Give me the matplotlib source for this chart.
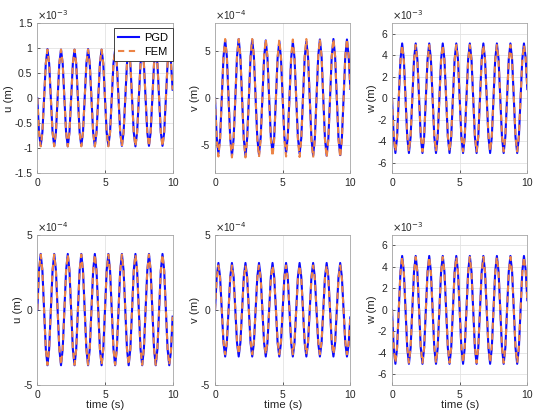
import numpy as np
import matplotlib
matplotlib.use('Agg')
import matplotlib.pyplot as plt

plt.rcParams['font.family'] = ['Liberation Sans', 'DejaVu Sans']

# ---------------------------------------------
# data (read off the picture), sampled every 0.125 s
# values are in the units of each panel's exponent label
# ---------------------------------------------
time_s = np.linspace(0, 10, 81)

u_top_pgd = [
    0.00, -0.68, -0.95, -0.68, 0.00, 0.69, 0.98, 0.69,
    0.00, -0.68, -0.95, -0.68, 0.00, 0.69, 0.97, 0.69,
    0.00, -0.68, -0.96, -0.68, 0.00, 0.69, 0.97, 0.69,
    0.00, -0.68, -0.95, -0.68, 0.00, 0.69, 0.98, 0.69,
    0.00, -0.68, -0.96, -0.68, 0.00, 0.69, 0.97, 0.69,
    0.00, -0.68, -0.95, -0.68, 0.00, 0.69, 0.97, 0.69,
    0.00, -0.68, -0.95, -0.68, 0.00, 0.69, 0.98, 0.69,
    0.00, -0.68, -0.96, -0.68, 0.00, 0.69, 0.97, 0.69,
    0.00, -0.68, -0.95, -0.68, 0.00, 0.69, 0.97, 0.69,
    0.00, -0.68, -0.95, -0.68, 0.00, 0.69, 0.98, 0.72,
    0.17]
u_top_fem = [
    0.00, -0.68, -0.96, -0.68, 0.00, 0.69, 0.97, 0.69,
    0.00, -0.68, -0.96, -0.68, 0.00, 0.69, 0.97, 0.69,
    0.00, -0.68, -0.96, -0.68, 0.00, 0.69, 0.97, 0.69,
    0.00, -0.68, -0.96, -0.68, 0.00, 0.69, 0.97, 0.69,
    0.00, -0.68, -0.96, -0.68, 0.00, 0.69, 0.97, 0.69,
    0.00, -0.68, -0.96, -0.68, 0.00, 0.69, 0.97, 0.69,
    0.00, -0.68, -0.96, -0.68, 0.00, 0.69, 0.97, 0.69,
    0.00, -0.68, -0.96, -0.68, 0.00, 0.69, 0.97, 0.69,
    0.00, -0.68, -0.96, -0.68, 0.00, 0.69, 0.97, 0.69,
    0.00, -0.68, -0.96, -0.68, 0.00, 0.69, 0.97, 0.72,
    0.17]

v_top_pgd = [
    0.00, -4.17, -5.90, -4.24, 0.00, 4.38, 6.20, 4.45,
    0.00, -4.31, -6.10, -4.31, 0.00, 4.45, 6.30, 4.45,
    0.00, -4.31, -6.10, -4.28, 0.00, 4.40, 6.25, 4.38,
    0.00, -4.24, -6.00, -4.17, 0.00, 4.31, 6.15, 4.31,
    0.00, -4.10, -5.80, -4.10, 0.00, 4.28, 6.05, 4.24,
    0.00, -4.10, -5.80, -4.14, 0.00, 4.24, 6.00, 4.28,
    0.00, -4.17, -5.90, -4.24, 0.00, 4.31, 6.05, 4.38,
    0.00, -4.31, -6.10, -4.31, 0.00, 4.45, 6.25, 4.45,
    0.00, -4.31, -6.10, -4.31, 0.00, 4.45, 6.30, 4.45,
    0.00, -4.28, -6.05, -4.24, 0.00, 4.40, 6.25, 4.50,
    1.00]
v_top_fem = [
    0.00, -4.38, -6.20, -4.40, 0.00, 4.45, 6.30, 4.45,
    0.00, -4.45, -6.30, -4.45, 0.00, 4.45, 6.30, 4.45,
    0.00, -4.45, -6.30, -4.45, 0.00, 4.45, 6.30, 4.45,
    0.00, -4.40, -6.25, -4.40, 0.00, 4.45, 6.30, 4.45,
    0.00, -4.38, -6.20, -4.38, 0.00, 4.40, 6.25, 4.40,
    0.00, -4.38, -6.20, -4.38, 0.00, 4.40, 6.25, 4.40,
    0.00, -4.40, -6.25, -4.40, 0.00, 4.45, 6.30, 4.45,
    0.00, -4.45, -6.30, -4.45, 0.00, 4.45, 6.30, 4.45,
    0.00, -4.45, -6.30, -4.45, 0.00, 4.45, 6.30, 4.45,
    0.00, -4.45, -6.30, -4.45, 0.00, 4.45, 6.30, 4.55,
    1.00]

w_top_pgd = [
    0.00, -3.61, -5.10, -3.61, 0.00, 3.61, 5.10, 3.61,
    0.00, -3.61, -5.10, -3.61, 0.00, 3.61, 5.10, 3.61,
    0.00, -3.61, -5.10, -3.61, 0.00, 3.61, 5.10, 3.61,
    0.00, -3.61, -5.10, -3.61, 0.00, 3.61, 5.10, 3.61,
    0.00, -3.61, -5.10, -3.61, 0.00, 3.61, 5.10, 3.61,
    0.00, -3.61, -5.10, -3.61, 0.00, 3.61, 5.10, 3.61,
    0.00, -3.61, -5.10, -3.61, 0.00, 3.61, 5.10, 3.61,
    0.00, -3.61, -5.10, -3.61, 0.00, 3.61, 5.10, 3.61,
    0.00, -3.61, -5.10, -3.61, 0.00, 3.61, 5.10, 3.61,
    0.00, -3.61, -5.10, -3.61, 0.00, 3.61, 5.10, 3.80,
    0.85]
w_top_fem = [
    0.00, -3.50, -4.95, -3.50, 0.00, 3.50, 4.95, 3.50,
    0.00, -3.50, -4.95, -3.50, 0.00, 3.50, 4.95, 3.50,
    0.00, -3.50, -4.95, -3.50, 0.00, 3.50, 4.95, 3.50,
    0.00, -3.50, -4.95, -3.50, 0.00, 3.50, 4.95, 3.50,
    0.00, -3.50, -4.95, -3.50, 0.00, 3.50, 4.95, 3.50,
    0.00, -3.50, -4.95, -3.50, 0.00, 3.50, 4.95, 3.50,
    0.00, -3.50, -4.95, -3.50, 0.00, 3.50, 4.95, 3.50,
    0.00, -3.50, -4.95, -3.50, 0.00, 3.50, 4.95, 3.50,
    0.00, -3.50, -4.95, -3.50, 0.00, 3.50, 4.95, 3.50,
    0.00, -3.50, -4.95, -3.50, 0.00, 3.50, 4.95, 3.70,
    0.85]

u_bot_pgd = [
    0.00, 2.62, 3.72, 2.62, 0.00, -2.60, -3.68, -2.60,
    0.00, 2.62, 3.72, 2.62, 0.00, -2.60, -3.68, -2.60,
    0.00, 2.62, 3.72, 2.62, 0.00, -2.60, -3.68, -2.60,
    0.00, 2.62, 3.72, 2.62, 0.00, -2.60, -3.68, -2.60,
    0.00, 2.62, 3.72, 2.62, 0.00, -2.60, -3.68, -2.60,
    0.00, 2.62, 3.72, 2.62, 0.00, -2.60, -3.68, -2.60,
    0.00, 2.62, 3.72, 2.62, 0.00, -2.60, -3.68, -2.60,
    0.00, 2.62, 3.72, 2.62, 0.00, -2.60, -3.68, -2.60,
    0.00, 2.62, 3.72, 2.62, 0.00, -2.60, -3.68, -2.60,
    0.00, 2.62, 3.72, 2.62, 0.00, -2.60, -3.68, -2.75,
    -0.45]
u_bot_fem = [
    0.00, 2.60, 3.68, 2.60, 0.00, -2.58, -3.65, -2.58,
    0.00, 2.60, 3.68, 2.60, 0.00, -2.58, -3.65, -2.58,
    0.00, 2.60, 3.68, 2.60, 0.00, -2.58, -3.65, -2.58,
    0.00, 2.60, 3.68, 2.60, 0.00, -2.58, -3.65, -2.58,
    0.00, 2.60, 3.68, 2.60, 0.00, -2.58, -3.65, -2.58,
    0.00, 2.60, 3.68, 2.60, 0.00, -2.58, -3.65, -2.58,
    0.00, 2.60, 3.68, 2.60, 0.00, -2.58, -3.65, -2.58,
    0.00, 2.60, 3.68, 2.60, 0.00, -2.58, -3.65, -2.58,
    0.00, 2.60, 3.68, 2.60, 0.00, -2.58, -3.65, -2.58,
    0.00, 2.60, 3.68, 2.60, 0.00, -2.58, -3.65, -2.72,
    -0.45]

v_bot_pgd = [
    0.00, 2.19, 3.12, 2.19, 0.00, -2.19, -3.10, -2.19,
    0.00, 2.19, 3.12, 2.19, 0.00, -2.19, -3.10, -2.19,
    0.00, 2.19, 3.12, 2.19, 0.00, -2.19, -3.10, -2.19,
    0.00, 2.19, 3.12, 2.19, 0.00, -2.19, -3.10, -2.19,
    0.00, 2.19, 3.12, 2.19, 0.00, -2.19, -3.10, -2.19,
    0.00, 2.19, 3.12, 2.19, 0.00, -2.19, -3.10, -2.19,
    0.00, 2.19, 3.12, 2.19, 0.00, -2.19, -3.10, -2.19,
    0.00, 2.19, 3.12, 2.19, 0.00, -2.19, -3.10, -2.19,
    0.00, 2.19, 3.12, 2.19, 0.00, -2.19, -3.10, -2.19,
    0.00, 2.19, 3.12, 2.19, 0.00, -2.19, -3.10, -2.30,
    -0.50]
v_bot_fem = [
    0.00, 2.09, 2.95, 2.09, 0.00, -2.09, -2.95, -2.09,
    0.00, 2.09, 2.95, 2.09, 0.00, -2.09, -2.95, -2.09,
    0.00, 2.09, 2.95, 2.09, 0.00, -2.09, -2.95, -2.09,
    0.00, 2.09, 2.95, 2.09, 0.00, -2.09, -2.95, -2.09,
    0.00, 2.09, 2.95, 2.09, 0.00, -2.09, -2.95, -2.09,
    0.00, 2.09, 2.95, 2.09, 0.00, -2.09, -2.95, -2.09,
    0.00, 2.09, 2.95, 2.09, 0.00, -2.09, -2.95, -2.09,
    0.00, 2.09, 2.95, 2.09, 0.00, -2.09, -2.95, -2.09,
    0.00, 2.09, 2.95, 2.09, 0.00, -2.09, -2.95, -2.09,
    0.00, 2.09, 2.95, 2.09, 0.00, -2.09, -2.95, -2.20,
    -0.50]

w_bot_pgd = [
    0.00, -3.54, -5.02, -3.54, 0.00, 3.54, 5.02, 3.54,
    0.00, -3.54, -5.02, -3.54, 0.00, 3.54, 5.02, 3.54,
    0.00, -3.54, -5.02, -3.54, 0.00, 3.54, 5.02, 3.54,
    0.00, -3.54, -5.02, -3.54, 0.00, 3.54, 5.02, 3.54,
    0.00, -3.54, -5.02, -3.54, 0.00, 3.54, 5.02, 3.54,
    0.00, -3.54, -5.02, -3.54, 0.00, 3.54, 5.02, 3.54,
    0.00, -3.54, -5.02, -3.54, 0.00, 3.54, 5.02, 3.54,
    0.00, -3.54, -5.02, -3.54, 0.00, 3.54, 5.02, 3.54,
    0.00, -3.54, -5.02, -3.54, 0.00, 3.54, 5.02, 3.54,
    0.00, -3.54, -5.02, -3.54, 0.00, 3.54, 5.02, 3.75,
    0.90]
w_bot_fem = [
    0.00, -3.47, -4.92, -3.47, 0.00, 3.47, 4.92, 3.47,
    0.00, -3.47, -4.92, -3.47, 0.00, 3.47, 4.92, 3.47,
    0.00, -3.47, -4.92, -3.47, 0.00, 3.47, 4.92, 3.47,
    0.00, -3.47, -4.92, -3.47, 0.00, 3.47, 4.92, 3.47,
    0.00, -3.47, -4.92, -3.47, 0.00, 3.47, 4.92, 3.47,
    0.00, -3.47, -4.92, -3.47, 0.00, 3.47, 4.92, 3.47,
    0.00, -3.47, -4.92, -3.47, 0.00, 3.47, 4.92, 3.47,
    0.00, -3.47, -4.92, -3.47, 0.00, 3.47, 4.92, 3.47,
    0.00, -3.47, -4.92, -3.47, 0.00, 3.47, 4.92, 3.47,
    0.00, -3.47, -4.92, -3.47, 0.00, 3.47, 4.92, 3.68,
    0.90]

ylabels = ['u (m)', 'v (m)', 'w (m)', 'u (m)', 'v (m)', 'w (m)']
exponents = ['-3', '-4', '-3', '-4', '-4', '-3']
ylims = [(-1.5, 1.5), (-8, 8), (-7, 7), (-5, 5), (-5, 5), (-7, 7)]
yticks = [[-1.5, -1, -0.5, 0, 0.5, 1, 1.5], [-5, 0, 5], [-6, -4, -2, 0, 2, 4, 6],
          [-5, 0, 5], [-5, 0, 5], [-6, -4, -2, 0, 2, 4, 6]]
ytick_labels = [['-1.5', '-1', '-0.5', '0', '0.5', '1', '1.5'], ['-5', '0', '5'],
                ['-6', '-4', '-2', '0', '2', '4', '6'], ['-5', '0', '5'], ['-5', '0', '5'],
                ['-6', '-4', '-2', '0', '2', '4', '6']]
pgd_series = [u_top_pgd, v_top_pgd, w_top_pgd, u_bot_pgd, v_bot_pgd, w_bot_pgd]
fem_series = [u_top_fem, v_top_fem, w_top_fem, u_bot_fem, v_bot_fem, w_bot_fem]

PGD_COLOR = '#0a0aff'
FEM_COLOR = '#ec8446'
TXT = '#262626'

# ---------------------------------------------
# figure
# ---------------------------------------------
fig = plt.figure(figsize=(5.37, 4.11), dpi=100)
lefts = [0.0695, 0.4004, 0.730]
bottoms = [0.578, 0.063]
W, H = 0.252, 0.366

for i in range(6):
    r, c = divmod(i, 3)
    ax = fig.add_axes([lefts[c], bottoms[r], W, H])
    ax.plot(time_s, pgd_series[i], color=PGD_COLOR, lw=1.5, label='PGD')
    ax.plot(time_s, fem_series[i], color=FEM_COLOR, lw=1.5, ls=(0, (3.0, 2.2)), label='FEM')
    ax.set_xlim(0, 10)
    ax.set_ylim(*ylims[i])
    ax.set_xticks([0, 5, 10])
    ax.set_xticklabels(['0', '5', '10'])
    ax.set_yticks(yticks[i])
    ax.set_yticklabels(ytick_labels[i])
    ax.grid(True, color='#e3e3e3', lw=0.6)
    ax.set_axisbelow(True)
    ax.tick_params(direction='in', length=2.5, width=0.5, colors=TXT, labelsize=7.5, pad=3.5)
    for sp in ax.spines.values():
        sp.set_color('#a6a6a6')
        sp.set_linewidth(0.6)
    ax.set_ylabel(ylabels[i], fontsize=8.2, color=TXT, labelpad=0.5)
    ax.text(0.0, 1.005, r'$\times$10$^{%s}$' % exponents[i], transform=ax.transAxes,
            ha='left', va='bottom', fontsize=7.2, color=TXT)
    if r == 1:
        ax.set_xlabel('time (s)', fontsize=8.2, color=TXT, labelpad=0)
    if i == 0:
        leg = ax.legend(loc='upper right', bbox_to_anchor=(1.0, 0.965), fontsize=8,
                        frameon=True, fancybox=False, borderaxespad=0.0,
                        handlelength=1.9, handletextpad=0.45, borderpad=0.4,
                        labelspacing=0.35, framealpha=1)
        leg.get_frame().set_edgecolor('#262626')
        leg.get_frame().set_linewidth(0.6)

fig.savefig('out.png', dpi=100)
